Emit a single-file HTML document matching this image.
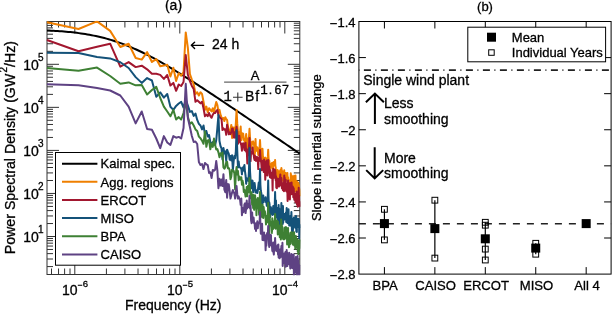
<!DOCTYPE html>
<html><head><meta charset="utf-8"><style>
html,body{margin:0;padding:0;background:#fff;width:612px;height:314px;overflow:hidden;}
svg{display:block;will-change:transform;}
text{stroke:#000;stroke-width:0.3px;}
</style></head><body>
<svg width="612" height="314" viewBox="0 0 612 314">
<path d="M47 266.59h6M299.8 266.59h-6M47 259.01h6M299.8 259.01h-6M47 253.63h6M299.8 253.63h-6M47 249.46h6M299.8 249.46h-6M47 246.05h6M299.8 246.05h-6M47 243.17h6M299.8 243.17h-6M47 240.67h6M299.8 240.67h-6M47 238.47h6M299.8 238.47h-6M47 236.5h12M299.8 236.5h-12M47 223.54h6M299.8 223.54h-6M47 215.96h6M299.8 215.96h-6M47 210.58h6M299.8 210.58h-6M47 206.41h6M299.8 206.41h-6M47 203h6M299.8 203h-6M47 200.12h6M299.8 200.12h-6M47 197.62h6M299.8 197.62h-6M47 195.42h6M299.8 195.42h-6M47 193.45h12M299.8 193.45h-12M47 180.49h6M299.8 180.49h-6M47 172.91h6M299.8 172.91h-6M47 167.53h6M299.8 167.53h-6M47 163.36h6M299.8 163.36h-6M47 159.95h6M299.8 159.95h-6M47 157.07h6M299.8 157.07h-6M47 154.57h6M299.8 154.57h-6M47 152.37h6M299.8 152.37h-6M47 150.4h12M299.8 150.4h-12M47 137.44h6M299.8 137.44h-6M47 129.86h6M299.8 129.86h-6M47 124.48h6M299.8 124.48h-6M47 120.31h6M299.8 120.31h-6M47 116.9h6M299.8 116.9h-6M47 114.02h6M299.8 114.02h-6M47 111.52h6M299.8 111.52h-6M47 109.32h6M299.8 109.32h-6M47 107.35h12M299.8 107.35h-12M47 94.39h6M299.8 94.39h-6M47 86.81h6M299.8 86.81h-6M47 81.43h6M299.8 81.43h-6M47 77.26h6M299.8 77.26h-6M47 73.85h6M299.8 73.85h-6M47 70.97h6M299.8 70.97h-6M47 68.47h6M299.8 68.47h-6M47 66.27h6M299.8 66.27h-6M47 64.3h12M299.8 64.3h-12M47 51.34h6M299.8 51.34h-6M47 43.76h6M299.8 43.76h-6M47 38.38h6M299.8 38.38h-6M47 34.21h6M299.8 34.21h-6M47 30.8h6M299.8 30.8h-6M47 27.92h6M299.8 27.92h-6M47 25.42h6M299.8 25.42h-6M47 23.22h6M299.8 23.22h-6M51.51 274.5v-6M51.51 21.5v6M58.54 274.5v-6M58.54 21.5v6M64.62 274.5v-6M64.62 21.5v6M70 274.5v-6M70 21.5v6M74.8 274.5v-12M74.8 21.5v12M106.41 274.5v-6M106.41 21.5v6M124.9 274.5v-6M124.9 21.5v6M138.02 274.5v-6M138.02 21.5v6M148.19 274.5v-6M148.19 21.5v6M156.51 274.5v-6M156.51 21.5v6M163.54 274.5v-6M163.54 21.5v6M169.62 274.5v-6M169.62 21.5v6M175 274.5v-6M175 21.5v6M179.8 274.5v-12M179.8 21.5v12M211.41 274.5v-6M211.41 21.5v6M229.9 274.5v-6M229.9 21.5v6M243.02 274.5v-6M243.02 21.5v6M253.19 274.5v-6M253.19 21.5v6M261.51 274.5v-6M261.51 21.5v6M268.54 274.5v-6M268.54 21.5v6M274.62 274.5v-6M274.62 21.5v6M280 274.5v-6M280 21.5v6M284.8 274.5v-12M284.8 21.5v12" stroke="#333" stroke-width="1" fill="none"/>
<rect x="47" y="21.5" width="252.8" height="253" fill="none" stroke="#333" stroke-width="1"/>
<defs><clipPath id="cl"><rect x="46.2" y="20.7" width="254.4" height="254.6"/></clipPath></defs>
<g clip-path="url(#cl)" fill="none" stroke-width="2" stroke-linejoin="round" stroke-linecap="butt">
<polyline stroke="#000" stroke-width="2" points="47,30.42 49.12,30.52 51.25,30.64 53.37,30.76 55.5,30.89 57.62,31.04 59.75,31.19 61.87,31.35 63.99,31.52 66.12,31.71 68.24,31.91 70.37,32.12 72.49,32.35 74.62,32.59 76.74,32.85 78.87,33.13 80.99,33.42 83.11,33.74 85.24,34.07 87.36,34.42 89.49,34.79 91.61,35.19 93.74,35.61 95.86,36.05 97.98,36.51 100.11,37.01 102.23,37.52 104.36,38.06 106.48,38.63 108.61,39.23 110.73,39.85 112.86,40.5 114.98,41.18 117.1,41.89 119.23,42.62 121.35,43.39 123.48,44.18 125.6,45 127.73,45.85 129.85,46.72 131.97,47.62 134.1,48.55 136.22,49.5 138.35,50.48 140.47,51.48 142.6,52.51 144.72,53.56 146.85,54.63 148.97,55.72 151.09,56.83 153.22,57.97 155.34,59.12 157.47,60.29 159.59,61.48 161.72,62.68 163.84,63.9 165.96,65.13 168.09,66.38 170.21,67.64 172.34,68.92 174.46,70.2 176.59,71.5 178.71,72.8 180.84,74.12 182.96,75.45 185.08,76.78 187.21,78.12 189.33,79.47 191.46,80.83 193.58,82.2 195.71,83.57 197.83,84.94 199.95,86.32 202.08,87.71 204.2,89.1 206.33,90.5 208.45,91.89 210.58,93.3 212.7,94.7 214.83,96.11 216.95,97.53 219.07,98.94 221.2,100.36 223.32,101.78 225.45,103.21 227.57,104.63 229.7,106.06 231.82,107.49 233.94,108.92 236.07,110.35 238.19,111.78 240.32,113.22 242.44,114.65 244.57,116.09 246.69,117.53 248.82,118.97 250.94,120.41 253.06,121.85 255.19,123.29 257.31,124.74 259.44,126.18 261.56,127.62 263.69,129.07 265.81,130.51 267.93,131.96 270.06,133.4 272.18,134.85 274.31,136.3 276.43,137.74 278.56,139.19 280.68,140.64 282.81,142.09 284.93,143.54 287.05,144.98 289.18,146.43 291.3,147.88 293.43,149.33 295.55,150.78 297.68,152.23 299.8,153.68"/>
<polyline stroke="#EF7F00" points="46.92,22.2 78.53,29 97.02,21.4 110.14,30.9 120.31,47 128.63,43.8 135.66,58 141.74,59.6 147.12,52.1 151.92,62 156.27,59.1 160.23,66.3 163.88,65.6 167.26,64.7 170.41,76.5 173.35,67.8 176.12,81 178.72,73.3 181.19,75.7 183.53,72 185.75,32.4 187.87,48 189.9,74 191.84,79.6 193.7,84.3 195.49,93.9 197.21,92.3 198.87,95.5 200.47,92.3 202.02,93.9 203.51,101.8 204.96,109.8 206.36,106.6 207.73,112.2 209.05,108.2 210.33,109.8 211.58,111.4 212.8,108.2 213.98,113 215.14,106.6 216.26,102 217.36,105 218.43,112 219.48,109.8 220.51,114.7 221.51,117.1 222.49,119.1 223.45,118 224.39,121.1 225.31,117.2 226.21,119.1 227.1,119.9 227.97,126.8 228.82,130.8 229.66,131.8 230.48,130.3 231.29,124.9 232.08,138 232.86,127.2 233.63,134.6 234.38,127.8 235.12,132.6 235.85,123 236.57,110 237.28,123.9 237.97,131.6 238.66,132.2 239.33,140.1 240,133.3 240.66,126.5 241.3,140.3 241.94,133.2 242.57,133.4 243.19,133.9 243.8,140 244.41,139.5 245,143.1 245.59,139.1 246.17,134 246.74,142.7 247.31,149 247.87,140.9 248.42,138.3 248.97,137.3 249.51,128.8 250.04,138.1 250.57,143.9 251.09,148.7 251.61,146.2 252.12,142.1 252.62,142.5 253.12,141.4 253.61,143.7 254.1,145.1 254.58,156.3 255.06,151.4 255.53,139.1 256,151 256.46,146.7 256.92,150 257.37,147.4 257.82,150.3 258.27,155 258.71,154.5 259.14,150.4 259.58,147.6 260.01,140 260.43,148.1 260.85,149.2 261.27,150 261.68,150.4 262.09,161 262.49,148.8 262.9,156.2 263.29,159.7 263.69,158.3 264.08,159.8 264.47,162.5 264.85,157.9 265.23,157.6 265.61,159.5 265.99,158.5 266.36,160.3 266.73,162.9 267.1,162.7 267.46,158.8 267.82,156.9 268.18,149.8 268.53,157.5 268.88,161.7 269.23,160.5 269.58,163.4 269.92,168.6 270.27,165.9 270.61,164.2 270.94,166.7 271.28,166.2 271.61,165.3 271.94,163 272.26,168.6 272.59,162.7 272.91,167.6 273.23,164.2 273.55,164 273.86,162.1 274.18,165 274.49,165.4 274.8,163.4 275.1,160 275.41,166.7 275.71,167.1 276.01,180.5 276.31,170.9 276.61,171.2 276.9,178.3 277.2,176 277.49,169.9 277.78,170.5 278.07,175.3 278.35,176.6 278.64,176.3 278.92,171.7 279.2,179.5 279.48,173.9 279.76,180.3 280.03,170.9 280.31,173.9 280.58,169.8 280.85,184.8 281.12,172.5 281.38,168 281.65,169.9 281.91,180.6 282.18,171.1 282.44,175.7 282.7,175.9 282.96,173.9 283.21,180.9 283.47,179.5 283.72,182.3 283.98,176.9 284.23,170.2 284.48,179.1 284.73,175.7 284.97,176.4 285.22,177.3 285.46,178.9 285.71,173.1 285.95,178.1 286.19,180.6 286.43,174.4 286.67,175 286.9,177.5 287.14,179.7 287.37,172.9 287.61,179.3 287.84,182 288.07,177.3 288.3,181 288.53,180 288.76,181.5 288.98,180.9 289.21,187.3 289.43,184 289.65,183.7 289.88,186.6 290.1,182 290.32,180 290.54,185.3 290.75,173.2 290.97,182.1 291.19,180 291.4,180 291.61,181.2 291.83,175.7 292.04,179.6 292.25,182.9 292.46,188.2 292.67,176.4 292.87,186.6 293.08,184.7 293.29,183.6 293.49,181.6 293.7,183.1 293.9,183.4 294.1,175.8 294.3,183.1 294.5,181.9 294.7,189.9 294.9,180.8 295.1,191.6 295.3,187 295.49,175.5 295.69,184.4 295.88,184 296.08,184.6 296.27,190.1 296.46,180.9 296.65,187.5 296.84,186.2 297.03,187.3 297.22,192.5 297.41,187 297.6,182.3 297.78,190 297.97,185.1 298.15,182.8 298.34,192.5 298.52,184 298.7,196.2 298.89,185.2 299.07,189.5 299.25,193 299.43,189 299.61,191.2 299.79,196.2"/>
<polyline stroke="#A2172F" points="46.92,40 78.53,51.3 97.02,46.8 110.14,43.7 120.31,66.6 128.63,62.1 135.66,67.1 141.74,65.7 147.12,69.3 151.92,73.8 156.27,73.8 160.23,74.9 163.88,78.9 167.26,75 170.41,85.6 173.35,82.9 176.12,90.8 178.72,84.5 181.19,86 183.53,82 185.75,55 187.87,74.8 189.9,81.1 191.84,85.9 193.7,89.1 195.49,101.8 197.21,100.3 198.87,101.8 200.47,103.4 202.02,101.8 203.51,108.2 204.96,116.2 206.36,114.6 207.73,116.2 209.05,113 210.33,116.2 211.58,117.8 212.8,114.6 213.98,113 215.14,113 216.26,111 217.36,110 218.43,115 219.48,117 220.51,118.2 221.51,119 222.49,130.1 223.45,128.3 224.39,129.7 225.31,129.4 226.21,134.8 227.1,124.7 227.97,129.1 228.82,134.3 229.66,132.4 230.48,134.1 231.29,131.8 232.08,128.5 232.86,128.8 233.63,137.4 234.38,132.3 235.12,137.8 235.85,131.7 236.57,126.8 237.28,132.6 237.97,143.9 238.66,140.5 239.33,135.8 240,142 240.66,143.1 241.3,145.1 241.94,150.7 242.57,143.7 243.19,143.2 243.8,143.7 244.41,149.8 245,150.4 245.59,142.7 246.17,151.6 246.74,149.2 247.31,163.4 247.87,154.2 248.42,154.9 248.97,145.9 249.51,138 250.04,146.5 250.57,161.1 251.09,151.9 251.61,152.7 252.12,153 252.62,147.4 253.12,154.3 253.61,154.4 254.1,158.2 254.58,160.1 255.06,155.9 255.53,156.7 256,160.9 256.46,159.3 256.92,157.1 257.37,157.2 257.82,160.9 258.27,169.1 258.71,158 259.14,161.2 259.58,156.3 260.01,150 260.43,156.8 260.85,160 261.27,163.3 261.68,170.2 262.09,161.1 262.49,160.9 262.9,164.5 263.29,161.8 263.69,171.9 264.08,159.5 264.47,164.2 264.85,161.5 265.23,179.7 265.61,174.3 265.99,170.3 266.36,169.5 266.73,160.5 267.1,169.1 267.46,175.4 267.82,166.3 268.18,160 268.53,166.9 268.88,167.6 269.23,166.5 269.58,173.3 269.92,177.2 270.27,170 270.61,171.6 270.94,175.2 271.28,178.1 271.61,175.9 271.94,173 272.26,175.2 272.59,190.4 272.91,173.4 273.23,168.8 273.55,175.3 273.86,173.5 274.18,177.7 274.49,169.4 274.8,175.5 275.1,170 275.41,172.5 275.71,180.3 276.01,176.2 276.31,187.7 276.61,178.7 276.9,188.2 277.2,178.5 277.49,183.3 277.78,182.3 278.07,185.9 278.35,180.7 278.64,178.8 278.92,186.6 279.2,184 279.48,181.5 279.76,185.8 280.03,177.5 280.31,174.4 280.58,182.4 280.85,184.2 281.12,181.9 281.38,178 281.65,182.2 281.91,188.1 282.18,183.6 282.44,186.4 282.7,189.4 282.96,190.3 283.21,185.6 283.47,187.3 283.72,182.6 283.98,191.2 284.23,175.4 284.48,187 284.73,177.7 284.97,188.6 285.22,184.7 285.46,189.7 285.71,179.8 285.95,184.4 286.19,191.3 286.43,186.7 286.67,184 286.9,186.9 287.14,192.1 287.37,191.6 287.61,201 287.84,187.9 288.07,180.6 288.3,198.7 288.53,195.6 288.76,189.4 288.98,188.4 289.21,188.8 289.43,191.9 289.65,193.2 289.88,199.4 290.1,182.9 290.32,185.3 290.54,194.8 290.75,191.9 290.97,193.3 291.19,191.5 291.4,190 291.61,182.6 291.83,193.8 292.04,189.6 292.25,194.1 292.46,192 292.67,186.6 292.87,193.3 293.08,187.3 293.29,197.3 293.49,191.2 293.7,188.2 293.9,191.2 294.1,198.1 294.3,199.6 294.5,197 294.7,198.6 294.9,194.2 295.1,196.8 295.3,199.7 295.49,202.2 295.69,195.6 295.88,194 296.08,193.4 296.27,195.1 296.46,194 296.65,191.5 296.84,195.4 297.03,204.7 297.22,198.8 297.41,204.5 297.6,197.4 297.78,206.7 297.97,198.6 298.15,197.9 298.34,195.9 298.52,198.8 298.7,187.8 298.89,201.1 299.07,195.5 299.25,201.5 299.43,204.2 299.61,201.8 299.79,206.9"/>
<polyline stroke="#145279" points="46.92,52.7 78.53,52.9 97.02,57.1 110.14,58.4 120.31,62.2 128.63,68 135.66,77.1 141.74,82.9 147.12,78.1 151.92,80.5 156.27,96.7 160.23,92.4 163.88,97.6 167.26,94 170.41,106.7 173.35,109.9 176.12,105.9 178.72,103.5 181.19,101.9 183.53,107.5 185.75,99.6 187.87,105.6 189.9,111.9 191.84,111.1 193.7,115.9 195.49,113.5 197.21,119.9 198.87,123.9 200.47,125.5 202.02,129.4 203.51,125.5 204.96,134.2 206.36,131 207.73,136.6 209.05,135 210.33,142.2 211.58,143.8 212.8,142 213.98,144 215.14,145 216.26,140 217.36,128 218.43,115 219.48,141 220.51,146 221.51,148.4 222.49,159.5 223.45,148 224.39,153.4 225.31,151.3 226.21,161 227.1,149.7 227.97,151.9 228.82,153.8 229.66,159.7 230.48,156 231.29,160.5 232.08,155.2 232.86,170.1 233.63,161.4 234.38,155.9 235.12,158.3 235.85,151.1 236.57,130.2 237.28,151.4 237.97,167.5 238.66,161.4 239.33,167 240,167.5 240.66,168.1 241.3,168.6 241.94,174.3 242.57,167.5 243.19,170.7 243.8,167.5 244.41,164.9 245,171.5 245.59,175.6 246.17,183.8 246.74,178.5 247.31,178.5 247.87,179 248.42,181.1 248.97,170.3 249.51,147.9 250.04,171.4 250.57,179.7 251.09,188.3 251.61,183.9 252.12,180.5 252.62,181 253.12,192.3 253.61,187.8 254.1,189.6 254.58,182.9 255.06,186.9 255.53,192.4 256,189.9 256.46,192.5 256.92,190.5 257.37,193.1 257.82,190.5 258.27,186.5 258.71,182.5 259.14,189.1 259.58,184.9 260.01,169 260.43,185.4 260.85,191.1 261.27,192.8 261.68,195.7 262.09,207.7 262.49,201.4 262.9,197.9 263.29,195.5 263.69,202.2 264.08,198.3 264.47,199.4 264.85,199.8 265.23,199.4 265.61,197.3 265.99,202.1 266.36,201.6 266.73,205.7 267.1,203.6 267.46,206.2 267.82,194.9 268.18,180.4 268.53,195.5 268.88,207 269.23,202.2 269.58,204.4 269.92,214.3 270.27,217 270.61,209.4 270.94,207.3 271.28,213.8 271.61,212.3 271.94,212.1 272.26,213 272.59,214.9 272.91,209.9 273.23,206 273.55,208 273.86,214 274.18,210.6 274.49,209.9 274.8,203.8 275.1,192 275.41,204.2 275.71,217.7 276.01,200.6 276.31,216.8 276.61,213.5 276.9,215.8 277.2,208 277.49,214.1 277.78,220.4 278.07,224.5 278.35,216.1 278.64,205.1 278.92,219.3 279.2,208.6 279.48,218.7 279.76,222.4 280.03,227.2 280.31,216.1 280.58,214.2 280.85,216.3 281.12,211.2 281.38,203 281.65,211.5 281.91,219.2 282.18,214.6 282.44,207.5 282.7,223.9 282.96,205.9 283.21,222.7 283.47,217.9 283.72,218.1 283.98,213.8 284.23,219.5 284.48,217.7 284.73,218.5 284.97,216.1 285.22,216.3 285.46,218.7 285.71,214.7 285.95,212.4 286.19,222.1 286.43,215 286.67,208 286.9,215.2 287.14,222.6 287.37,219.4 287.61,216.3 287.84,223.2 288.07,218.1 288.3,222.2 288.53,209.3 288.76,219.3 288.98,217.2 289.21,225.5 289.43,225 289.65,220 289.88,224.8 290.1,221.5 290.32,216.1 290.54,225 290.75,225.7 290.97,221 291.19,218.2 291.4,212 291.61,218.4 291.83,227.4 292.04,233.3 292.25,220.9 292.46,226 292.67,222.2 292.87,231.9 293.08,226.5 293.29,221.4 293.49,218.5 293.7,218.5 293.9,217.6 294.1,223.6 294.3,219.2 294.5,222.1 294.7,224.9 294.9,226.1 295.1,227.7 295.3,219.4 295.49,223.9 295.69,221.1 295.88,216 296.08,216.1 296.27,231.5 296.46,231.4 296.65,218.3 296.84,231.9 297.03,218.7 297.22,227.7 297.41,223.2 297.6,219.3 297.78,219.4 297.97,221.8 298.15,225.5 298.34,226.8 298.52,226.8 298.7,218.7 298.89,224.2 299.07,220.5 299.25,238.4 299.43,227.7 299.61,224.7 299.79,228"/>
<polyline stroke="#3E8034" points="46.92,68 78.53,70.7 97.02,67.6 110.14,76 120.31,83.8 128.63,82.4 135.66,85.3 141.74,84.9 147.12,94.4 151.92,90 156.27,86.8 160.23,98 163.88,106.7 167.26,111.5 170.41,116.3 173.35,109.9 176.12,119.5 178.72,117.1 181.19,119.5 183.53,113 185.75,101 187.87,116.7 189.9,123.9 191.84,122.3 193.7,125.5 195.49,129.4 197.21,131 198.87,136.6 200.47,138.2 202.02,140.6 203.51,143.8 204.96,131.4 206.36,146.8 207.73,140.4 209.05,140.1 210.33,149.3 211.58,143.4 212.8,146.9 213.98,138.6 215.14,145.1 216.26,149.5 217.36,149.1 218.43,152.4 219.48,157.3 220.51,153.2 221.51,155.4 222.49,152.5 223.45,167.4 224.39,168.7 225.31,167.2 226.21,162.2 227.1,161.8 227.97,168.3 228.82,168 229.66,170.2 230.48,179.2 231.29,176.4 232.08,169.7 232.86,171 233.63,170.7 234.38,173.4 235.12,189.5 235.85,173.7 236.57,167 237.28,174.4 237.97,171.1 238.66,180.3 239.33,176.4 240,178 240.66,179.6 241.3,177.2 241.94,184.7 242.57,180.8 243.19,183.6 243.8,191.9 244.41,189.7 245,192.9 245.59,196.5 246.17,195.9 246.74,186.9 247.31,196.3 247.87,186 248.42,192.2 248.97,186.8 249.51,178 250.04,187.8 250.57,198.3 251.09,192 251.61,192.6 252.12,204.6 252.62,195 253.12,208 253.61,195.1 254.1,209.8 254.58,205 255.06,195.3 255.53,200.6 256,199.2 256.46,215.2 256.92,200.3 257.37,208.2 257.82,198 258.27,205.5 258.71,206.8 259.14,214.8 259.58,202.1 260.01,192 260.43,202.9 260.85,204.2 261.27,211.4 261.68,216.3 262.09,217.2 262.49,204.7 262.9,211.1 263.29,218 263.69,207 264.08,211.5 264.47,211.1 264.85,211.2 265.23,214 265.61,218.3 265.99,224.4 266.36,223.4 266.73,221.6 267.1,215.7 267.46,221.9 267.82,213.3 268.18,203 268.53,213.4 268.88,213.7 269.23,234.5 269.58,214.3 269.92,220.7 270.27,221.4 270.61,225.4 270.94,221.8 271.28,222.7 271.61,226.6 271.94,232.9 272.26,218.3 272.59,221.9 272.91,229.3 273.23,227.1 273.55,221.8 273.86,227.9 274.18,224.3 274.49,221.4 274.8,222 275.1,214 275.41,222.3 275.71,228.7 276.01,223.9 276.31,228.3 276.61,220.8 276.9,220.5 277.2,221.9 277.49,225.3 277.78,234.4 278.07,221.8 278.35,225.8 278.64,232.4 278.92,233.7 279.2,232.7 279.48,229.4 279.76,237.2 280.03,225.5 280.31,232.5 280.58,228.6 280.85,239.5 281.12,219.6 281.38,222 281.65,228.6 281.91,237.8 282.18,226 282.44,234.5 282.7,234.8 282.96,237.2 283.21,239.2 283.47,233.8 283.72,233.6 283.98,235.8 284.23,239.3 284.48,227.9 284.73,227.6 284.97,238.7 285.22,229.3 285.46,234.8 285.71,235.6 285.95,227 286.19,227.6 286.43,233 286.67,228 286.9,233.3 287.14,244.4 287.37,232.8 287.61,234.8 287.84,233.8 288.07,227.9 288.3,238.7 288.53,235.3 288.76,237 288.98,247.3 289.21,239 289.43,245.9 289.65,238.2 289.88,243.7 290.1,244.2 290.32,232.9 290.54,241.1 290.75,240.7 290.97,238 291.19,236.8 291.4,232 291.61,237 291.83,238.3 292.04,239.3 292.25,243.4 292.46,233.1 292.67,243.2 292.87,244.6 293.08,239.3 293.29,244.5 293.49,235.9 293.7,240 293.9,244.9 294.1,232.2 294.3,243.7 294.5,242.1 294.7,240.7 294.9,240.7 295.1,240.5 295.3,248.7 295.49,242.3 295.69,240.1 295.88,236 296.08,240.3 296.27,240.7 296.46,246.9 296.65,242.1 296.84,245.5 297.03,243.2 297.22,248 297.41,239.6 297.6,239.9 297.78,251.7 297.97,245.4 298.15,246 298.34,254.2 298.52,250.6 298.7,245.9 298.89,250.6 299.07,244.3 299.25,241.9 299.43,248.1 299.61,242.6 299.79,239.4"/>
<polyline stroke="#5E4283" points="46.92,84.2 78.53,85.2 97.02,88 110.14,90.5 120.31,95.5 128.63,106.7 135.66,123.4 141.74,111.5 147.12,129 151.92,129.8 156.27,138.5 160.23,148.1 163.88,136.1 167.26,142.5 170.41,144.9 173.35,136.1 176.12,137.7 178.72,136.9 181.19,138.5 183.53,128 185.75,83.7 187.87,118 189.9,127 191.84,136 193.7,142 195.49,141.5 197.21,144 198.87,162 200.47,165 202.02,164 203.51,169.1 204.96,162.9 206.36,164.4 207.73,165.2 209.05,172.9 210.33,172.2 211.58,178 212.8,169.9 213.98,170.7 215.14,169.7 216.26,161 217.36,170.1 218.43,188.2 219.48,178.8 220.51,185.6 221.51,179.6 222.49,186.1 223.45,174.2 224.39,189.7 225.31,192.2 226.21,180 227.1,197.7 227.97,184.1 228.82,184.5 229.66,191.2 230.48,198.6 231.29,195.5 232.08,192.6 232.86,190 233.63,192.3 234.38,193.6 235.12,198.6 235.85,192.2 236.57,186 237.28,194.2 237.97,198.6 238.66,196.5 239.33,198.7 240,199.2 240.66,204.8 241.3,198.5 241.94,215.2 242.57,207.9 243.19,212.2 243.8,211.6 244.41,204.5 245,203.4 245.59,213.1 246.17,208.7 246.74,200.6 247.31,208.4 247.87,204.2 248.42,207 248.97,207.1 249.51,196 250.04,208.4 250.57,205.7 251.09,220.6 251.61,223.3 252.12,212.4 252.62,221.9 253.12,219.5 253.61,217.6 254.1,223.2 254.58,223.1 255.06,228.8 255.53,224.1 256,231 256.46,222.9 256.92,225 257.37,221.2 257.82,228.2 258.27,222.6 258.71,222.8 259.14,223.2 259.58,223.4 260.01,212 260.43,224.3 260.85,233.8 261.27,232.3 261.68,232.8 262.09,223.8 262.49,240.1 262.9,235.6 263.29,233.5 263.69,240.2 264.08,232.4 264.47,239.6 264.85,235.1 265.23,237.2 265.61,250.3 265.99,235.5 266.36,245.6 266.73,237.8 267.1,233.1 267.46,236.2 267.82,235.6 268.18,226 268.53,236.2 268.88,243.3 269.23,247 269.58,243.2 269.92,243.9 270.27,234.8 270.61,242.1 270.94,234.9 271.28,245.5 271.61,243.8 271.94,245.7 272.26,250.4 272.59,251.3 272.91,248.1 273.23,242.4 273.55,252.7 273.86,254.5 274.18,248 274.49,251.2 274.8,244.7 275.1,238 275.41,245 275.71,246.5 276.01,249.8 276.31,246 276.61,250.4 276.9,251.1 277.2,247.3 277.49,251.1 277.78,245 278.07,254.8 278.35,244.6 278.64,257.4 278.92,254.1 279.2,251.7 279.48,258.3 279.76,255.7 280.03,249.5 280.31,254.4 280.58,257.2 280.85,250.2 281.12,251 281.38,246 281.65,247.6 281.91,254.6 282.18,253.2 282.44,242.7 282.7,266.1 282.96,254.5 283.21,259.7 283.47,253.8 283.72,260.2 283.98,258.6 284.23,263.3 284.48,253.3 284.73,256.9 284.97,258.6 285.22,262.7 285.46,252.1 285.71,266.7 285.95,253 286.19,256.4 286.43,255.3 286.67,250 286.9,255.6 287.14,252.5 287.37,265.9 287.61,262.3 287.84,255.4 288.07,261.8 288.3,259 288.53,259.3 288.76,263.9 288.98,263 289.21,252.8 289.43,256.8 289.65,258.5 289.88,261.1 290.1,266 290.32,268.5 290.54,259.1 290.75,265.1 290.97,263.7 291.19,259.4 291.4,254 291.61,259.6 291.83,267.8 292.04,254.4 292.25,255.9 292.46,264.9 292.67,258.4 292.87,268.2 293.08,258.7 293.29,254.8 293.49,261.3 293.7,254.7 293.9,276.2 294.1,265.1 294.3,266.2 294.5,261.8 294.7,265.1 294.9,262.5 295.1,264.7 295.3,269.9 295.49,272.6 295.69,261.1 295.88,257 296.08,262.9 296.27,264.6 296.46,268.9 296.65,274.5 296.84,265.7 297.03,261.2 297.22,282.5 297.41,274.4 297.6,256 297.78,266.8 297.97,265.6 298.15,261.5 298.34,260.4 298.52,266.4 298.7,264.4 298.89,271.5 299.07,268.3 299.25,274.9 299.43,265.5 299.61,266.3 299.79,266.3"/>
</g>
<rect x="55.5" y="152.5" width="125" height="112.7" fill="#fff" stroke="#000" stroke-width="1"/>
<line x1="62" x2="97.4" y1="163.7" y2="163.7" stroke="#000000" stroke-width="2"/>
<text x="100.6" y="168.4" font-size="13" font-family="Liberation Sans, sans-serif">Kaimal spec.</text>
<line x1="62" x2="97.4" y1="181.84" y2="181.84" stroke="#EF7F00" stroke-width="2"/>
<text x="100.6" y="186.54" font-size="13" font-family="Liberation Sans, sans-serif">Agg. regions</text>
<line x1="62" x2="97.4" y1="199.98" y2="199.98" stroke="#A2172F" stroke-width="2"/>
<text x="100.6" y="204.68" font-size="13" font-family="Liberation Sans, sans-serif">ERCOT</text>
<line x1="62" x2="97.4" y1="218.12" y2="218.12" stroke="#145279" stroke-width="2"/>
<text x="100.6" y="222.82" font-size="13" font-family="Liberation Sans, sans-serif">MISO</text>
<line x1="62" x2="97.4" y1="236.26" y2="236.26" stroke="#3E8034" stroke-width="2"/>
<text x="100.6" y="240.96" font-size="13" font-family="Liberation Sans, sans-serif">BPA</text>
<line x1="62" x2="97.4" y1="254.4" y2="254.4" stroke="#5E4283" stroke-width="2"/>
<text x="100.6" y="259.1" font-size="13" font-family="Liberation Sans, sans-serif">CAISO</text>
<text x="23.2" y="241.9" font-size="14" font-family="Liberation Sans, sans-serif">10</text>
<text x="38" y="233.4" font-size="10" font-family="Liberation Sans, sans-serif">1</text>
<text x="23.2" y="198.85" font-size="14" font-family="Liberation Sans, sans-serif">10</text>
<text x="38" y="190.35" font-size="10" font-family="Liberation Sans, sans-serif">2</text>
<text x="23.2" y="155.8" font-size="14" font-family="Liberation Sans, sans-serif">10</text>
<text x="38" y="147.3" font-size="10" font-family="Liberation Sans, sans-serif">3</text>
<text x="23.2" y="112.75" font-size="14" font-family="Liberation Sans, sans-serif">10</text>
<text x="38" y="104.25" font-size="10" font-family="Liberation Sans, sans-serif">4</text>
<text x="23.2" y="69.7" font-size="14" font-family="Liberation Sans, sans-serif">10</text>
<text x="38" y="61.2" font-size="10" font-family="Liberation Sans, sans-serif">5</text>
<text x="62" y="294.8" font-size="14" font-family="Liberation Sans, sans-serif">10</text>
<text x="77.7" y="286.7" font-size="9.6" font-family="Liberation Sans, sans-serif"><tspan dy="0.8" font-size="8.5">&#8722;</tspan><tspan dy="-0.8">6</tspan></text>
<text x="167" y="294.8" font-size="14" font-family="Liberation Sans, sans-serif">10</text>
<text x="182.7" y="286.7" font-size="9.6" font-family="Liberation Sans, sans-serif"><tspan dy="0.8" font-size="8.5">&#8722;</tspan><tspan dy="-0.8">5</tspan></text>
<text x="272" y="294.8" font-size="14" font-family="Liberation Sans, sans-serif">10</text>
<text x="287.7" y="286.7" font-size="9.6" font-family="Liberation Sans, sans-serif"><tspan dy="0.8" font-size="8.5">&#8722;</tspan><tspan dy="-0.8">4</tspan></text>
<text x="173.5" y="10.4" font-size="14" text-anchor="middle" font-family="Liberation Sans, sans-serif">(a)</text>
<text x="173.3" y="310.3" font-size="14" text-anchor="middle" font-family="Liberation Sans, sans-serif">Frequency (Hz)</text>
<text transform="translate(15.2,147.6) rotate(-90)" font-size="14.2" text-anchor="middle" font-family="Liberation Sans, sans-serif">Power Spectral Density (GW<tspan font-size="10" dx="1.2" dy="-7.9">2</tspan><tspan dy="7.9">/Hz)</tspan></text>
<path d="M191.4 45.35H203.6M194.6 42.2L191.3 45.35L194.6 48.5" stroke="#000" stroke-width="1.4" fill="none" stroke-linecap="round" stroke-linejoin="round"/>
<text x="212" y="48.8" font-size="14" font-family="Liberation Sans, sans-serif">24 h</text>
<text x="255.1" y="79.5" font-size="13" text-anchor="middle" font-family="Liberation Sans, sans-serif">A</text>
<line x1="224.1" x2="286.5" y1="82.2" y2="82.2" stroke="#666" stroke-width="1.2"/>
<text x="227.6" y="100.8" font-size="14" text-anchor="middle" font-family="Liberation Mono, monospace">1</text>
<path d="M233 97.2H242.6M237.8 92.5V101.5" stroke="#333" stroke-width="1.1" fill="none"/>
<text x="249.6" y="100.8" font-size="14" text-anchor="middle" font-family="Liberation Sans, sans-serif">B</text>
<text x="257.2" y="100.8" font-size="14" text-anchor="middle" font-family="Liberation Sans, sans-serif">f</text>
<text x="264.0" y="94.3" font-size="12.5" text-anchor="middle" font-family="Liberation Mono, monospace">1</text>
<text x="270.5" y="94.3" font-size="12.5" text-anchor="middle" font-family="Liberation Sans, sans-serif">.</text>
<text x="277.9" y="94.3" font-size="12.5" text-anchor="middle" font-family="Liberation Sans, sans-serif">6</text>
<text x="285.5" y="94.3" font-size="12.5" text-anchor="middle" font-family="Liberation Sans, sans-serif">7</text>
<text x="355.5" y="26.65" font-size="13" text-anchor="end" font-family="Liberation Sans, sans-serif"><tspan dy="1">&#8722;</tspan><tspan dy="-1">1.4</tspan></text>
<text x="355.5" y="62.74" font-size="13" text-anchor="end" font-family="Liberation Sans, sans-serif"><tspan dy="1">&#8722;</tspan><tspan dy="-1">1.6</tspan></text>
<text x="355.5" y="98.82" font-size="13" text-anchor="end" font-family="Liberation Sans, sans-serif"><tspan dy="1">&#8722;</tspan><tspan dy="-1">1.8</tspan></text>
<text x="355.5" y="134.91" font-size="13" text-anchor="end" font-family="Liberation Sans, sans-serif"><tspan dy="1">&#8722;</tspan><tspan dy="-1">2</tspan></text>
<text x="355.5" y="170.99" font-size="13" text-anchor="end" font-family="Liberation Sans, sans-serif"><tspan dy="1">&#8722;</tspan><tspan dy="-1">2.2</tspan></text>
<text x="355.5" y="207.08" font-size="13" text-anchor="end" font-family="Liberation Sans, sans-serif"><tspan dy="1">&#8722;</tspan><tspan dy="-1">2.4</tspan></text>
<text x="355.5" y="243.16" font-size="13" text-anchor="end" font-family="Liberation Sans, sans-serif"><tspan dy="1">&#8722;</tspan><tspan dy="-1">2.6</tspan></text>
<text x="355.5" y="279.25" font-size="13" text-anchor="end" font-family="Liberation Sans, sans-serif"><tspan dy="1">&#8722;</tspan><tspan dy="-1">2.8</tspan></text>
<text x="385.22" y="290.1" font-size="13.1" text-anchor="middle" font-family="Liberation Sans, sans-serif">BPA</text>
<text x="435.66" y="290.1" font-size="13.1" text-anchor="middle" font-family="Liberation Sans, sans-serif">CAISO</text>
<text x="486.1" y="290.1" font-size="13.1" text-anchor="middle" font-family="Liberation Sans, sans-serif">ERCOT</text>
<text x="536.54" y="290.1" font-size="13.1" text-anchor="middle" font-family="Liberation Sans, sans-serif">MISO</text>
<text x="586.98" y="290.1" font-size="13.1" text-anchor="middle" font-family="Liberation Sans, sans-serif">All 4</text>
<path d="M358.9 57.59h7M611.1 57.59h-7M358.9 93.67h7M611.1 93.67h-7M358.9 129.76h7M611.1 129.76h-7M358.9 165.84h7M611.1 165.84h-7M358.9 201.93h7M611.1 201.93h-7M358.9 238.01h7M611.1 238.01h-7M384.42 274.1v-7M384.42 21.5v7M434.86 274.1v-7M434.86 21.5v7M485.3 274.1v-7M485.3 21.5v7M535.74 274.1v-7M535.74 21.5v7M586.18 274.1v-7M586.18 21.5v7" stroke="#000" stroke-width="1" fill="none"/>
<line x1="358.9" x2="611.1" y1="70.1" y2="70.1" stroke="#222" stroke-width="1.6" stroke-dasharray="7 4.5 1 4.5" stroke-dashoffset="-5"/>
<line x1="358.9" x2="611.1" y1="223.7" y2="223.7" stroke="#222" stroke-width="1.6" stroke-dasharray="7 7" stroke-dashoffset="0"/>
<line x1="384.42" x2="384.42" y1="209.3" y2="239.9" stroke="#000" stroke-width="1.2"/>
<rect x="381.52" y="206.4" width="5.8" height="5.8" fill="none" stroke="#000" stroke-width="1"/>
<rect x="381.52" y="237" width="5.8" height="5.8" fill="none" stroke="#000" stroke-width="1"/>
<rect x="379.92" y="219.1" width="9" height="9" fill="#000"/>
<line x1="434.86" x2="434.86" y1="200.2" y2="258.1" stroke="#000" stroke-width="1.2"/>
<rect x="431.96" y="197.3" width="5.8" height="5.8" fill="none" stroke="#000" stroke-width="1"/>
<rect x="431.96" y="255.2" width="5.8" height="5.8" fill="none" stroke="#000" stroke-width="1"/>
<rect x="430.36" y="224.1" width="9" height="9" fill="#000"/>
<line x1="485.3" x2="485.3" y1="222.3" y2="260" stroke="#000" stroke-width="1.2"/>
<rect x="482.4" y="219.4" width="5.8" height="5.8" fill="none" stroke="#000" stroke-width="1"/>
<rect x="482.4" y="222.3" width="5.8" height="5.8" fill="none" stroke="#000" stroke-width="1"/>
<rect x="482.4" y="246.2" width="5.8" height="5.8" fill="none" stroke="#000" stroke-width="1"/>
<rect x="482.4" y="257.1" width="5.8" height="5.8" fill="none" stroke="#000" stroke-width="1"/>
<rect x="480.8" y="234.3" width="9" height="9" fill="#000"/>
<line x1="535.74" x2="535.74" y1="243.3" y2="254.2" stroke="#000" stroke-width="1.2"/>
<rect x="532.84" y="240.4" width="5.8" height="5.8" fill="none" stroke="#000" stroke-width="1"/>
<rect x="532.84" y="251.3" width="5.8" height="5.8" fill="none" stroke="#000" stroke-width="1"/>
<rect x="531.24" y="243.6" width="9" height="9" fill="#000"/>
<rect x="581.68" y="219.1" width="9" height="9" fill="#000"/>
<rect x="358.9" y="21.5" width="252.2" height="252.6" fill="none" stroke="#000" stroke-width="1"/>
<rect x="467.8" y="27.2" width="137.8" height="34.6" fill="#fff" stroke="#000" stroke-width="1"/>
<rect x="487" y="32.7" width="9" height="9" fill="#000"/>
<rect x="488.7" y="49.8" width="5.5" height="5.5" fill="#fff" stroke="#000" stroke-width="1"/>
<text x="511.8" y="42" font-size="13" font-family="Liberation Sans, sans-serif">Mean</text>
<text x="511.8" y="57.4" font-size="13" font-family="Liberation Sans, sans-serif">Individual Years</text>
<text x="485" y="11" font-size="13" text-anchor="middle" font-family="Liberation Sans, sans-serif">(b)</text>
<text transform="translate(321.1,147.7) rotate(-90)" font-size="13" text-anchor="middle" font-family="Liberation Sans, sans-serif">Slope in inertial subrange</text>
<text x="363.2" y="84.5" font-size="14" font-family="Liberation Sans, sans-serif">Single wind plant</text>
<text x="384" y="108.4" font-size="14" font-family="Liberation Sans, sans-serif">Less</text>
<text x="384" y="124.2" font-size="14" font-family="Liberation Sans, sans-serif">smoothing</text>
<text x="384" y="162.5" font-size="14" font-family="Liberation Sans, sans-serif">More</text>
<text x="384" y="178.3" font-size="14" font-family="Liberation Sans, sans-serif">smoothing</text>
<path d="M374.9 124V93.8M365.9 102.2L374.9 93.6L383.9 102.2" stroke="#000" stroke-width="2" fill="none"/>
<path d="M374.7 147.3V178M366.2 170.1L374.7 178.4L383.2 170.1" stroke="#000" stroke-width="2" fill="none"/>
</svg>
</body></html>
